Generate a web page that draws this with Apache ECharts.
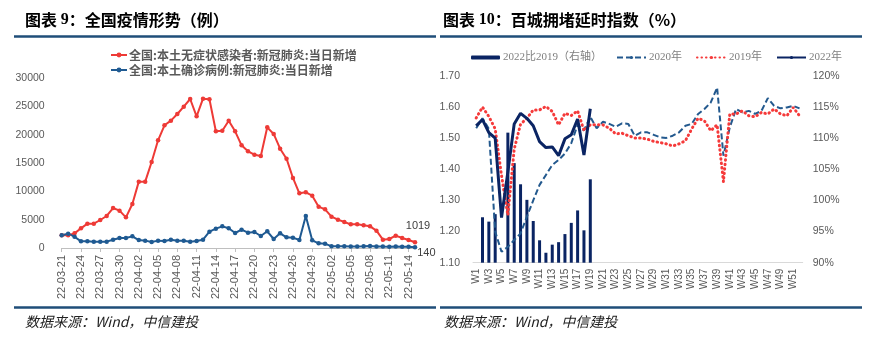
<!DOCTYPE html>
<html>
<head>
<meta charset="utf-8">
<script src="https://cdn.jsdelivr.net/npm/echarts@6/dist/echarts.min.js"></script>
<style>
html,body{margin:0;padding:0;background:#fff;}
#c{width:882px;height:342px;}
</style>
</head>
<body>
<div id="c"></div>
<script>
// ---------- Left chart data ----------
const dates = ['22-03-21','22-03-22','22-03-23','22-03-24','22-03-25','22-03-26','22-03-27','22-03-28','22-03-29','22-03-30','22-03-31',
'22-04-01','22-04-02','22-04-03','22-04-04','22-04-05','22-04-06','22-04-07','22-04-08','22-04-09','22-04-10',
'22-04-11','22-04-12','22-04-13','22-04-14','22-04-15','22-04-16','22-04-17','22-04-18','22-04-19','22-04-20',
'22-04-21','22-04-22','22-04-23','22-04-24','22-04-25','22-04-26','22-04-27','22-04-28','22-04-29','22-04-30',
'22-05-01','22-05-02','22-05-03','22-05-04','22-05-05','22-05-06','22-05-07','22-05-08','22-05-09','22-05-10',
'22-05-11','22-05-12','22-05-13','22-05-14','22-05-15'];
const asymptomatic = [2240,2240,2590,3480,4300,4300,4950,5660,7070,6600,5420,
7780,11730,11730,15200,19040,21690,22510,23690,24990,26340,
23280,26400,26290,20630,20740,22510,20630,18150,17090,16500,
16270,21330,20160,17560,15790,12380,9670,9840,9250,7310,
6840,5540,5010,4600,4180,4180,4010,3830,3070,1470,
1590,2180,1770,1410,1019];
const confirmed = [2240,2530,2000,1180,1180,1120,1120,1120,1470,1770,1770,
2060,1410,1300,1060,1300,1240,1470,1300,1300,1120,
1240,1470,2890,3420,3830,3480,2650,3240,2710,2830,
2120,2950,1590,2590,1890,1830,1410,5660,1360,830,
770,300,290,290,280,270,290,350,280,250,
230,270,240,230,140];
const leftSeriesNames = ['全国:本土无症状感染者:新冠肺炎:当日新增','全国:本土确诊病例:新冠肺炎:当日新增'];

// ---------- Right chart data ----------
const weeks = ['W1','W2','W3','W4','W5','W6','W7','W8','W9','W10','W11','W12','W13','W14','W15','W16','W17','W18','W19','W20',
'W21','W22','W23','W24','W25','W26','W27','W28','W29','W30','W31','W32','W33','W34','W35','W36','W37','W38','W39','W40',
'W41','W42','W43','W44','W45','W46','W47','W48','W49','W50','W51','W52'];
const ratio2022vs2019 = [null,97.3,96.6,97.8,89.6,110.9,106.0,102.6,100.1,96.7,93.6,91.6,92.9,93.3,94.6,96.4,98.4,95.2,103.4];
const idx2020 = [1.532,1.564,1.530,1.200,1.135,1.151,1.173,1.194,1.248,1.300,1.350,1.382,1.414,1.430,1.451,1.484,1.543,1.525,1.569,1.532,
1.553,1.546,1.537,1.548,1.546,1.508,1.519,1.519,1.511,1.503,1.501,1.508,1.519,1.540,1.546,1.578,1.594,1.615,1.663,1.444,
1.535,1.594,1.583,1.588,1.578,1.588,1.629,1.604,1.596,1.599,1.604,1.596];
const idx2019 = [1.565,1.600,1.570,1.530,1.380,1.253,1.465,1.545,1.564,1.591,1.591,1.602,1.586,1.543,1.580,1.573,1.588,1.525,1.543,1.543,
1.543,1.532,1.514,1.516,1.508,1.501,1.501,1.497,1.490,1.486,1.482,1.475,1.482,1.492,1.530,1.564,1.556,1.524,1.543,1.360,
1.578,1.578,1.588,1.572,1.569,1.583,1.578,1.594,1.578,1.572,1.599,1.572];
const idx2022 = [1.540,1.560,1.518,1.500,1.245,1.392,1.546,1.580,1.564,1.540,1.489,1.470,1.472,1.444,1.498,1.511,1.562,1.446,1.595];
const leftTicks = [0,30000,5000];
const rightNames = ['2022比2019（右轴）','2020年','2019年','2022年'];

const RED = '#EE3A36', BLUE = '#1F5A92', NAVY = '#0A2463', DASH = '#23598E', RULE = '#1F4E79';
const SANS = '"Liberation Sans", Arial, "Noto Sans CJK SC", sans-serif';
const CJK = '"Noto Sans CJK SC", sans-serif';

const chart = echarts.init(document.getElementById('c'));

function lastLabel(arr, labelOpt) {
  return arr.map((v, i) => i === arr.length - 1 ? { value: v, label: labelOpt } : v);
}

const option = {
  animation: false,
  backgroundColor: '#fff',
  textStyle: { fontFamily: SANS },
  graphic: [
    { type: 'text', left: 25, top: 12, style: {
        rich: {
          a: { fontFamily: CJK, fontWeight: 'bold', fontSize: 16, fill: '#000' },
          n: { fontFamily: '"Liberation Serif", serif', fontWeight: 'bold', fontSize: 16, fill: '#000' }
        },
        text: '{a|图表 }{n|9}{a|：全国疫情形势（例）}' } },
    { type: 'text', left: 443, top: 12, style: {
        rich: {
          a: { fontFamily: CJK, fontWeight: 'bold', fontSize: 16, fill: '#000' },
          n: { fontFamily: '"Liberation Serif", serif', fontWeight: 'bold', fontSize: 16, fill: '#000' }
        },
        text: '{a|图表 }{n|10}{a|：百城拥堵延时指数（%）}' } },
    { type: 'line', shape: { x1: 14, y1: 36.5, x2: 436, y2: 36.5 }, style: { stroke: RULE, lineWidth: 2.5 } },
    { type: 'line', shape: { x1: 440, y1: 36.5, x2: 862, y2: 36.5 }, style: { stroke: RULE, lineWidth: 2.5 } },
    { type: 'line', shape: { x1: 14, y1: 307.5, x2: 436, y2: 307.5 }, style: { stroke: RULE, lineWidth: 2.5 } },
    { type: 'line', shape: { x1: 440, y1: 307.5, x2: 862, y2: 307.5 }, style: { stroke: RULE, lineWidth: 2.5 } },
    { type: 'text', left: 25, top: 315, style: { text: '数据来源：Wind，中信建投', font: 'italic 14px "Noto Sans CJK SC", sans-serif', fill: '#222' } },
    { type: 'text', left: 444, top: 315, style: { text: '数据来源：Wind，中信建投', font: 'italic 14px "Noto Sans CJK SC", sans-serif', fill: '#222' } }
  ],
  legend: [
    {
      data: leftSeriesNames, orient: 'vertical', left: 105, top: 44, itemGap: 3,
      itemWidth: 16, itemHeight: 6,
      textStyle: { fontFamily: CJK, fontWeight: 'bold', fontSize: 12, color: '#595959', padding: [0, 0, 0, -3] }
    },
    {
      data: rightNames, orient: 'horizontal', left: 466, top: 47, itemGap: 14,
      itemWidth: 29, itemHeight: 4,
      textStyle: { fontFamily: '"Liberation Serif", "Noto Sans CJK SC", serif', fontSize: 11, color: '#7F7F7F', padding: [0, 0, 0, -2] }
    }
  ],
  grid: [
    { left: 61.7, top: 78.3, width: 353.3, height: 169.7 },
    { left: 473, top: 76, width: 329.7, height: 186.7 }
  ],
  xAxis: [
    {
      gridIndex: 0, type: 'category', data: dates, boundaryGap: false,
      axisLine: { lineStyle: { color: '#BFBFBF' } },
      axisTick: { show: true, interval: 2, length: 4, lineStyle: { color: '#BFBFBF' } },
      axisLabel: { interval: 2, rotate: 90, fontSize: 11, color: '#595959', margin: 7, fontFamily: SANS }
    },
    {
      gridIndex: 1, type: 'category', data: weeks, boundaryGap: true,
      axisLine: { lineStyle: { color: '#D9D9D9' } },
      axisTick: { show: false },
      axisLabel: { interval: 1, rotate: 90, fontSize: 10, color: '#595959', margin: 6, fontFamily: SANS }
    }
  ],
  yAxis: [
    {
      gridIndex: 0, type: 'value', min: leftTicks[0], max: leftTicks[1], interval: leftTicks[2],
      splitLine: { show: false }, axisLine: { show: false }, axisTick: { show: false },
      axisLabel: { fontSize: 10.5, color: '#595959', margin: 17, fontFamily: SANS, formatter: v => String(v) }
    },
    {
      gridIndex: 1, type: 'value', min: 1.1, max: 1.7, interval: 0.1, position: 'left',
      splitLine: { show: false }, axisLine: { show: false }, axisTick: { show: false },
      axisLabel: { fontSize: 10.5, color: '#595959', margin: 13, fontFamily: SANS, formatter: v => v.toFixed(2) }
    },
    {
      gridIndex: 1, type: 'value', min: 90, max: 120, interval: 5, position: 'right',
      splitLine: { show: false }, axisLine: { show: false }, axisTick: { show: false },
      axisLabel: { fontSize: 10.5, color: '#595959', margin: 10, fontFamily: SANS, formatter: '{value}%' }
    }
  ],
  series: [
    {
      name: leftSeriesNames[0], type: 'line', xAxisIndex: 0, yAxisIndex: 0,
      data: lastLabel(asymptomatic, { show: true, position: 'top', distance: 4, offset: [3, -5], fontSize: 11, color: '#404040', formatter: '{c}' }),
      symbol: 'circle', symbolSize: 4.5, showAllSymbol: true,
      lineStyle: { color: RED, width: 2 }, itemStyle: { color: RED }
    },
    {
      name: leftSeriesNames[1], type: 'line', xAxisIndex: 0, yAxisIndex: 0,
      data: lastLabel(confirmed, { show: true, position: 'right', distance: 0, offset: [0, 6], fontSize: 11, color: '#404040', formatter: '{c}' }),
      symbol: 'circle', symbolSize: 4.5, showAllSymbol: true,
      lineStyle: { color: BLUE, width: 2 }, itemStyle: { color: BLUE }
    },
    {
      name: rightNames[0], type: 'bar', xAxisIndex: 1, yAxisIndex: 2,
      data: ratio2022vs2019, barWidth: 3, itemStyle: { color: NAVY }, clip: true
    },
    {
      name: rightNames[1], type: 'line', xAxisIndex: 1, yAxisIndex: 1,
      data: idx2020, symbol: 'none',
      lineStyle: { color: DASH, width: 2, type: [6, 3] }, itemStyle: { color: DASH }
    },
    {
      name: rightNames[2], type: 'line', xAxisIndex: 1, yAxisIndex: 1,
      data: idx2019, symbol: 'none',
      lineStyle: { color: '#F53A3A', width: 3, type: [0.5, 4], cap: 'round' }, itemStyle: { color: '#F53A3A' }
    },
    {
      name: rightNames[3], type: 'line', xAxisIndex: 1, yAxisIndex: 1,
      data: idx2022, symbol: 'none',
      lineStyle: { color: NAVY, width: 3 }, itemStyle: { color: NAVY }
    }
  ]
};
chart.setOption(option);
</script>
</body>
</html>
